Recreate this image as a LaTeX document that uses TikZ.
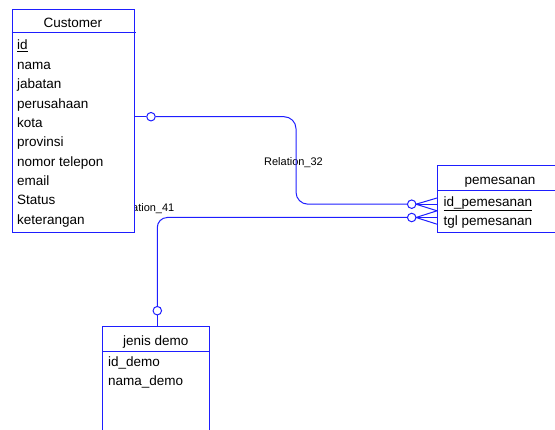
\documentclass[tikz,border=0pt]{standalone}
\usepackage{fontspec}
\setmainfont{Liberation Sans}
\definecolor{erblue}{RGB}{30,30,255}
\tikzset{
  ent/.style={draw=erblue, line width=1pt, fill=white, anchor=north west, inner sep=0pt},
  entopen/.style={fill=white, anchor=north west, inner sep=0pt},
  sepline/.style={draw=erblue, line width=1pt},
  rowtxt/.style={anchor=base west, inner sep=0pt, font=\fontsize{13.5}{16}\selectfont},
  headtxt/.style={anchor=base, inner sep=0pt, font=\fontsize{13.5}{16}\selectfont},
  reltxt/.style={anchor=base, inner sep=0pt, font=\fontsize{11}{13}\selectfont},
  conn/.style={draw=erblue, line width=1pt},
  zero/.style={circle, draw=erblue, line width=1pt, fill=white, minimum size=8.5pt, inner sep=0pt},
}
\begin{document}
\begin{tikzpicture}[x=1pt,y=-1pt]
\useasboundingbox (0,0) rectangle (555,430);

% labels drawn first (Relation_41 is partly hidden by Customer box)
\node[reltxt] (lab41) at (145,211.5) {Relation\_41};
\node[reltxt] (lab32) at (293.5,165.5) {Relation\_32};

% Customer entity
\node[ent, minimum width=122.5pt, minimum height=223.5pt] (cust) at (11.5,9) {};
\draw[sepline] (11.5,33) -- (135.5,33);
\node[headtxt] (custh) at (72.8,27.3) {Customer};
\node[rowtxt] (c0) at (17,50) {\underline{id}};
\node[rowtxt] (c1) at (17,69.35) {nama};
\node[rowtxt] (c2) at (17,88.7) {jabatan};
\node[rowtxt] (c3) at (17,108.05) {perusahaan};
\node[rowtxt] (c4) at (17,127.4) {kota};
\node[rowtxt] (c5) at (17,146.75) {provinsi};
\node[rowtxt] (c6) at (17,166.1) {nomor telepon};
\node[rowtxt] (c7) at (17,185.45) {email};
\node[rowtxt] (c8) at (17,204.8) {Status};
\node[rowtxt] (c9) at (17,224.15) {keterangan};

% pemesanan entity (runs past the right edge)
\node[entopen, minimum width=118pt, minimum height=67pt] (pem) at (437,166) {};
\draw[sepline] (555,166) -- (437,166) -- (437,233) -- (555,233);
\draw[sepline] (437,191) -- (555,191);
\node[headtxt] (pemh) at (500,185) {pemesanan};
\node[rowtxt] (p0) at (443.5,206.5) {\underline{id\_pemesanan}};
\node[rowtxt] (p1) at (443.5,225.3) {tgl pemesanan};

% jenis demo entity (runs past the bottom edge)
\node[entopen, minimum width=107pt, minimum height=103.3pt] (jd) at (102.3,326.7) {};
\draw[sepline] (102.3,430) -- (102.3,326.7) -- (209.3,326.7) -- (209.3,430);
\draw[sepline] (102.3,351.7) -- (209.3,351.7);
\node[headtxt] (jdh) at (155.8,346) {jenis demo};
\node[rowtxt] (j0) at (108,366.7) {id\_demo};
\node[rowtxt] (j1) at (108,386) {nama\_demo};

% Relation_32
\coordinate (r32a) at (cust.east |- 0,116.7);
\node[zero] (z32a) at (151,116.7) {};
\node[zero] (z32b) at (411.7,204.2) {};
\draw[conn] (r32a) -- (z32a);
\draw[conn, rounded corners=12pt] (z32a) -- (296,116.7) -- (296,204.2) -- (z32b);
\coordinate (cf32) at (416,204.2);
\draw[conn] (cf32) -- (pem.west |- 0,198);
\draw[conn] (cf32) -- (pem.west |- 0,204.2);
\draw[conn] (cf32) -- (pem.west |- 0,210.8);

% Relation_41
\node[zero] (z41a) at (411.7,217.5) {};
\node[zero] (z41b) at (157.3,310.7) {};
\draw[conn, rounded corners=10pt] (z41a) -- (157.3,217.5) -- (z41b);
\draw[conn] (z41b) -- (jd.north -| z41b);
\coordinate (cf41) at (416,217.5);
\draw[conn] (cf41) -- (pem.west |- 0,210.8);
\draw[conn] (cf41) -- (pem.west |- 0,217.5);
\draw[conn] (cf41) -- (pem.west |- 0,224.2);
\end{tikzpicture}
\end{document}
